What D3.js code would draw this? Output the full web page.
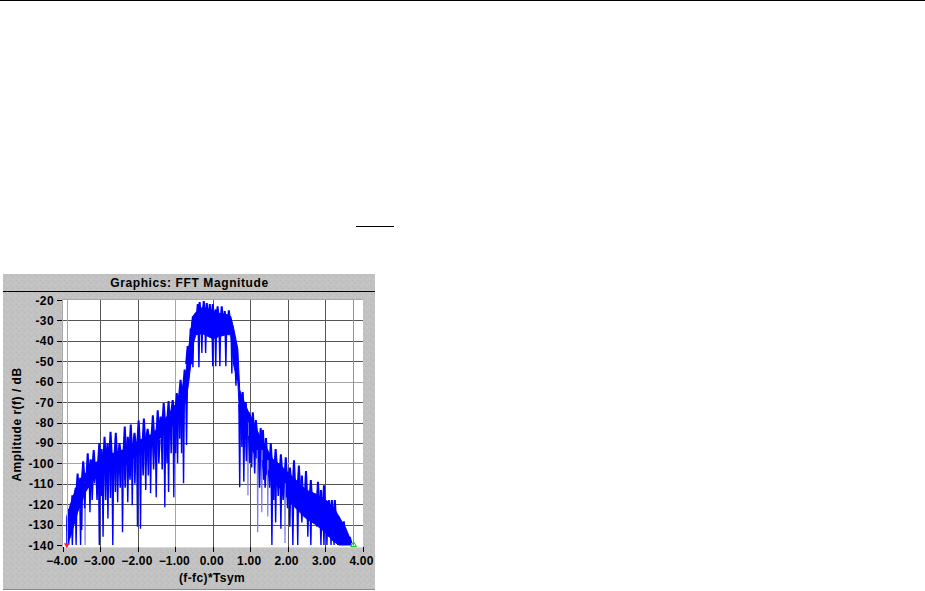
<!DOCTYPE html>
<html><head><meta charset="utf-8">
<script src="https://cdnjs.cloudflare.com/ajax/libs/d3/7.8.5/d3.min.js"></script>
<style>html,body{margin:0;padding:0;background:#fff}svg{display:block}text{font-family:"Liberation Sans",Arial,sans-serif;font-weight:bold;fill:#000}</style>
</head><body><div id="c"></div>
<script>
const titleText = "Graphics: FFT Magnitude";
const xLabel = "(f-fc)*Tsym";
const yLabel = "Amplitude r(f) / dB";
const xTicks = [-4,-3,-2,-1,0,1,2,3,4];
const yTicks = [-20,-30,-40,-50,-60,-70,-80,-90,-100,-110,-120,-130,-140];
const lightXGrid = [-1];
const lightYGrid = [-60,-100];
const redMarker = -3.9;
const greenMarker = 3.75;

const bodyFreq = [-3.90,-3.80,-3.61,-3.40,-3.18,-2.94,-2.73,-2.33,-1.98,-1.60,-1.26,-0.99,-0.80,-0.72,-0.64,-0.53,-0.45,-0.27,0,0.16,0.35,0.48,0.56,0.67,0.72,0.88,1.07,1.26,1.42,1.60,1.79,1.95,2.22,2.49,2.75,3.02,3.21,3.37,3.56,3.69];
const bodyTop = [-126,-120,-110,-105,-100,-98,-95.5,-93,-89,-85.5,-78,-71,-62,-56,-43,-28,-26,-23.5,-25,-26.5,-27,-28,-34,-44,-64,-72,-79,-87,-92,-98,-100.5,-103.5,-108,-113,-115,-118,-121,-126,-132,-138];
const bodyBottom = [-140,-136,-124,-114,-108,-106,-103,-101,-95,-91,-85,-80,-73,-70,-60,-42,-37,-36.5,-39,-38,-37,-37,-52,-60,-78,-88,-94,-100,-105,-109,-112,-116,-122,-127,-130,-134,-138,-140,-140,-140];

const peakFreq = [-3.85,-3.75,-3.66,-3.61,-3.54,-3.46,-3.34,-3.26,-3.18,-3.03,-2.97,-2.89,-2.81,-2.73,-2.59,-2.49,-2.35,-2.27,-2.19,-2.09,-1.98,-1.84,-1.74,-1.60,-1.47,-1.39,-1.31,-1.18,-1.07,-0.96,-0.86,-0.75,-0.67,-0.59,-0.53,-0.40,-0.35,-0.24,-0.16,-0.08,0,0.08,0.13,0.24,0.32,0.43,0.80,0.88,0.96,1.07,1.15,1.28,1.34,1.42,1.55,1.68,1.82,1.95,2.06,2.17,2.30,2.38,2.49,2.62,2.81,2.89,2.97,3.10,3.18,3.26,3.37,3.50,3.58,3.66];
const peakDb = [-122.4,-115.6,-112,-105,-107,-99,-95,-98,-93.5,-90,-93,-87,-90,-84.5,-85,-90,-82,-87,-81,-85,-79,-78,-83,-76.5,-74,-77,-70.5,-69.5,-69,-65.5,-59,-54,-42.5,-34,-28,-22,-21,-20.5,-21.5,-22,-22,-24.5,-23,-23,-25.4,-25,-65,-70,-75,-75,-78.8,-82.7,-83.7,-87.6,-90,-93,-95.5,-97,-102,-98.5,-101,-106,-103.7,-108.2,-109,-113,-110.7,-118,-118,-118,-126,-128.4,-134,-136];

const dipFreq = [-3.85,-3.75,-3.65,-3.53,-3.50,-3.28,-3.16,-3.03,-2.93,-2.80,-2.67,-2.54,-2.41,-2.27,-2.15,-2.01,-1.93,-1.79,-1.66,-1.51,-1.28,-1.18,-1.04,-0.94,-0.78,-0.70,-0.53,-0.37,-0.29,-0.19,0,0.08,0.19,0.35,0.51,0.62,0.72,0.83,1.04,1.36,1.58,1.68,1.82,2.06,2.14,2.27,2.38,2.54,2.62,2.78,2.89,2.97,3.05,3.16,3.24,3.34,3.48,3.56,3.66];
const dipDb = [-140,-140,-140,-140,-132.7,-124,-109.7,-140,-136,-127,-140,-119,-133.7,-119,-120.5,-131,-132,-113,-114.6,-116.6,-121.5,-114,-116.6,-100,-109.7,-91,-52.9,-52.9,-46,-46,-52.4,-52.4,-52.4,-52.4,-56,-62,-111.7,-109,-102,-108,-140,-129,-132,-131,-140,-140,-129,-136,-140,-131,-140,-140,-140,-140,-140,-140,-140,-140,-140];

const shortDipFreq = [-3.42,-3.22,-3.09,-2.98,-2.86,-2.73,-2.60,-2.47,-2.34,-2.21,-2.08,-1.86,-1.72,-1.58,-1.44,-1.35,-1.22,-1.11,-0.99,-0.88,-0.83,0.78,0.90,0.99,1.12,1.25,1.40,1.52,1.63,1.75,1.88,2.00,2.10,2.22,2.33,2.45,2.58,2.70,2.84,2.93,3.01,3.10,3.20,3.29,3.42,3.52,3.62];
const shortDipDb = [-122,-118,-118,-116,-118,-117,-114,-112,-112,-108,-110,-106,-106,-103,-100,-103,-100,-95,-95,-88,-95,-92,-99,-100,-105,-112,-112,-112,-118,-116,-118,-122,-120,-122,-122,-126,-126,-128,-130,-132,-134,-136,-136,-136,-138,-138,-138];

const lightDipFreq = [-3.41,0.94,1.20,1.31,1.47,1.93];
const lightDipDb = [-140,-115.6,-133.7,-124,-126,-139];

const svg = d3.select("#c").append("svg").attr("width",925).attr("height",591);
const defs = svg.append("defs");
const pat = defs.append("pattern").attr("id","tex").attr("width",6).attr("height",6).attr("patternUnits","userSpaceOnUse");
pat.append("rect").attr("width",6).attr("height",6).attr("fill","#c2c2c2");
[[0,0,"#b6b6b6"],[3,1,"#cacaca"],[1,3,"#cacaca"],[4,4,"#b6b6b6"]].forEach(d=>pat.append("rect").attr("x",d[0]).attr("y",d[1]).attr("width",1).attr("height",1).attr("fill",d[2]));

const x = d3.scaleLinear().domain([-4,4]).range([63,362.5]);
const y = d3.scaleLinear().domain([-20,-140]).range([300,545]);

svg.append("rect").attr("x",0).attr("y",0).attr("width",925).attr("height",1).attr("fill","#000");
svg.append("rect").attr("x",356).attr("y",226).attr("width",38).attr("height",1).attr("fill","#000");

svg.append("rect").attr("x",3).attr("y",274).attr("width",372).attr("height",316).attr("fill","url(#tex)");
svg.append("rect").attr("x",3).attr("y",589).attr("width",372).attr("height",1).attr("fill","#8a8a8a");
svg.append("rect").attr("x",3).attr("y",291).attr("width",372).attr("height",1).attr("fill","#000");
svg.append("text").attr("x",189.5).attr("y",287).attr("text-anchor","middle").attr("font-size",12).attr("letter-spacing",0.6).text(titleText);

svg.append("rect").attr("x",62).attr("y",299).attr("width",301).attr("height",248.5).attr("fill","#a8a8a8");
svg.append("rect").attr("x",63).attr("y",300).attr("width",300).attr("height",247.5).attr("fill","#fff");

const snap = v => Math.round(v)+0.5;
const grid = svg.append("g").attr("shape-rendering","crispEdges");
xTicks.slice(1,-1).forEach(t=>grid.append("line").attr("x1",snap(x(t))).attr("x2",snap(x(t))).attr("y1",300).attr("y2",547)
  .attr("stroke",lightXGrid.includes(t)?"#a6a6a6":"#555").attr("stroke-width",1));
yTicks.slice(1,-1).forEach(t=>grid.append("line").attr("x1",63).attr("x2",363).attr("y1",snap(y(t))).attr("y2",snap(y(t)))
  .attr("stroke",lightYGrid.includes(t)?"#a6a6a6":"#555").attr("stroke-width",1));

const plot = svg.append("g");
const bodyRows = bodyFreq.map((f,i)=>({f,t:bodyTop[i],b:bodyBottom[i]}));
plot.append("path").datum(bodyRows).attr("fill","#0000ff").attr("stroke","#0000ff").attr("stroke-width",1)
  .attr("d",d3.area().x(d=>x(d.f)).y0(d=>y(d.b)).y1(d=>y(d.t)));
const nearest = f => { let best=bodyRows[0]; bodyRows.forEach(r=>{ if(Math.abs(r.f-f)<Math.abs(best.f-f)) best=r; }); return best; };
const midOf = f => { const r=nearest(f); return (r.t+r.b)/2; };
const spike = (d,base,tip) => {
  const cx=x(d.f), r=y(midOf(d.f)), e=y(d.v);
  return `M${cx-base/2},${r}L${cx-tip/2},${e}L${cx+tip/2},${e}L${cx+base/2},${r}Z`;
};
plot.selectAll(".pk").data(peakFreq.map((f,i)=>({f,v:peakDb[i]}))).join("path").attr("class","pk")
  .attr("d",d=>spike(d,5,2)).attr("fill","#0000ff");
plot.selectAll(".ld").data(lightDipFreq.map((f,i)=>({f,v:lightDipDb[i]}))).join("path").attr("class","ld")
  .attr("d",d=>spike(d,2,1.2)).attr("fill","#7878ff");
plot.selectAll(".sd").data(shortDipFreq.map((f,i)=>({f,v:shortDipDb[i]}))).join("path").attr("class","sd")
  .attr("d",d=>spike(d,3.6,1.5)).attr("fill","#0000ff");
plot.selectAll(".dp").data(dipFreq.map((f,i)=>({f,v:dipDb[i]}))).join("path").attr("class","dp")
  .attr("d",d=>spike(d,3,1.4)).attr("fill","#0000ff");

svg.append("line").attr("x1",snap(x(redMarker))).attr("x2",snap(x(redMarker))).attr("y1",300).attr("y2",547).attr("stroke","#ff8080").attr("shape-rendering","crispEdges");
svg.append("line").attr("x1",snap(x(greenMarker))).attr("x2",snap(x(greenMarker))).attr("y1",300).attr("y2",547).attr("stroke","#00ff00").attr("shape-rendering","crispEdges");
svg.append("path").attr("d",d3.symbol(d3.symbolTriangle,14)()).attr("transform",`translate(${x(redMarker)},${y(-140)}) rotate(180)`).attr("fill","#ff2020");
svg.append("path").attr("d",d3.symbol(d3.symbolTriangle,14)()).attr("transform",`translate(${x(greenMarker)+0.5},${y(-140)})`).attr("fill","none").attr("stroke","#00c000");

const yAxis = svg.append("g").attr("shape-rendering","crispEdges");
yTicks.forEach(t=>{
  yAxis.append("line").attr("x1",57).attr("x2",62).attr("y1",snap(y(t))).attr("y2",snap(y(t))).attr("stroke","#000");
  svg.append("text").attr("x",54).attr("y",y(t)+4.5).attr("text-anchor","end").attr("font-size",12).attr("letter-spacing",0.4).text(t);
});
xTicks.forEach(t=>{
  yAxis.append("line").attr("x1",snap(x(t))).attr("x2",snap(x(t))).attr("y1",547).attr("y2",552).attr("stroke","#000");
  svg.append("text").attr("x",x(t)-1).attr("y",565).attr("text-anchor","middle").attr("font-size",12).attr("letter-spacing",0.2).text(d3.format(".2f")(t));
});
svg.append("text").attr("x",212).attr("y",582).attr("text-anchor","middle").attr("font-size",12).attr("letter-spacing",0.4).text(xLabel);
svg.append("text").attr("transform","translate(21,424.5) rotate(-90)").attr("text-anchor","middle").attr("font-size",12).attr("letter-spacing",0.5).text(yLabel);
</script></body></html>
